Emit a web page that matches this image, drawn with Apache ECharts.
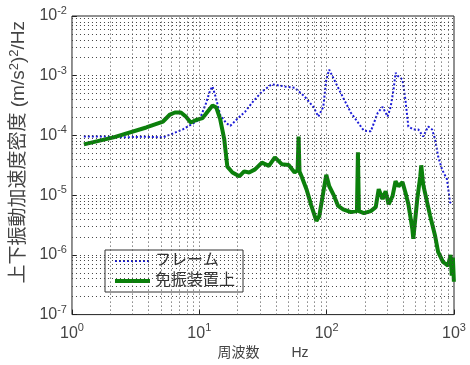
<!DOCTYPE html>
<html>
<head>
<meta charset="utf-8">
<script src="https://cdn.jsdelivr.net/npm/echarts@6/dist/echarts.min.js"></script>
<style>
  html, body { margin: 0; padding: 0; background: #fff; }
  #chart { width: 470px; height: 365px; }
</style>
</head>
<body>
<div id="chart"></div>
<script>
// Frame (フレーム) vertical acceleration PSD
const frameFreq = [1.24, 1.77, 2.54, 3.63, 5.19, 6.21, 7.42, 8.87, 10.05, 11.2, 12.2, 12.7, 13.4, 14.6, 16.3, 17.5,
  19.9, 22.9, 26, 31, 37.1, 46.9, 56, 67, 78.7, 86, 94.1, 99.3, 104.7, 114.6, 125.4, 137, 155, 176, 196, 222,
  252, 275, 301, 318, 335, 348, 360, 394, 415, 438, 479, 524, 573, 627, 673, 711, 750, 805, 881, 930, 980];
const frameVal = [9.6e-5, 9.6e-5, 9.3e-5, 9.5e-5, 9.3e-5, 1.08e-4, 1.26e-4, 1.58e-4, 1.85e-4, 3.3e-4, 5.8e-4, 6.6e-4, 4.5e-4, 2.2e-4, 1.6e-4, 1.45e-4,
  1.9e-4, 2.5e-4, 3.55e-4, 5.4e-4, 7.2e-4, 6.6e-4, 6.3e-4, 4.5e-4, 3.0e-4, 2.07e-4, 3.0e-4, 8.6e-4, 1.26e-3, 8.6e-4, 5.8e-4, 4.0e-4, 2.4e-4, 1.65e-4, 1.2e-4, 1.17e-4,
  2.4e-4, 3.0e-4, 2.07e-4, 3.0e-4, 5.8e-4, 1.12e-3, 1.0e-3, 8.6e-4, 4.0e-4, 1.41e-4, 1.26e-4, 1.26e-4, 9.6e-5, 1.41e-4, 1.26e-4, 8.6e-5, 4.5e-5, 2.7e-5, 1.85e-5, 7.6e-6, 7.1e-6];

// Isolation device top (免振装置上) vertical acceleration PSD
const isoFreq = [1.24, 2.12, 3.83, 5.19, 5.88, 6.43, 7.16, 7.83, 8.56, 9.36, 10.6, 11.6, 12.7, 13.6, 14.6, 15.7, 16.6, 18.2,
  20.6, 22.5, 24.6, 27.4, 31, 35.2, 39.2, 44.4, 50.3, 56, 59.1, 60.2, 61.2, 63.5, 69.4, 75.9, 83, 87.6, 94.1, 99.3,
  104.8, 114.6, 123, 134.6, 155, 172.9, 176, 179.2, 196, 222, 242.9, 256.3, 275, 290.5, 306.5, 329.2, 347.4, 366.6,
  394, 415, 438, 470.9, 479, 514.8, 543.3, 553.2, 573, 594, 649.6, 711, 750, 820, 896.7, 940, 960, 980, 998];
const isoVal = [7.1e-5, 9.3e-5, 1.36e-4, 1.71e-4, 2.24e-4, 2.42e-4, 2.42e-4, 2.07e-4, 1.65e-4, 1.8e-4, 1.95e-4, 2.5e-4, 3.16e-4, 2.93e-4, 1.85e-4, 8.6e-5, 3.0e-5, 2.4e-5,
  2.07e-5, 2.5e-5, 2.4e-5, 2.7e-5, 3.5e-5, 3.1e-5, 4.3e-5, 3.3e-5, 3.2e-5, 2.4e-5, 2.6e-5, 9.6e-5, 2.5e-5, 2.07e-5, 1.26e-5, 6.6e-6, 3.7e-6, 4.5e-6, 1.12e-5, 2.2e-5,
  1.41e-5, 9.6e-6, 6.6e-6, 5.8e-6, 5.2e-6, 5.4e-6, 5.2e-5, 5.4e-6, 5.0e-6, 5.4e-6, 6.3e-6, 1.26e-5, 8.6e-6, 1.17e-5, 7.0e-6, 9.6e-6, 1.71e-5, 1.41e-5,
  1.65e-5, 1.12e-5, 7.1e-6, 2.7e-6, 1.85e-6, 8.6e-6, 2.07e-5, 3.16e-5, 1.5e-5, 1.41e-5, 4.5e-6, 2.07e-6, 1.12e-6, 7.6e-7, 6.6e-7, 1.0e-6, 4.5e-7, 9.0e-7, 3.55e-7];

const seriesNames = ['フレーム', '免振装置上'];
const xDecades = [1, 10, 100, 1000];    // grid decades on the frequency axis
const yDecades = [1e-7, 1e-6, 1e-5, 1e-4, 1e-3, 1e-2];
const xLabel = '周波数　　 Hz';
const yLabel = '上下振動加速度密度 (m/s{sup|2}){sup|2}/Hz';

const FONT = '"Liberation Sans", Arial, "Noto Sans CJK JP", sans-serif';
const BLUE = '#1c1cd8', GREEN = '#0b800b';
function gridLine() { return { type: [1, 3], color: '#444', width: 1 }; }

function pairs(xs, ys) { return xs.map((x, i) => [x, ys[i]]); }
function powLabel(v) {
  const e = Math.round(Math.log10(v));
  return '{b|10}{e|' + e + '}';
}
function powRich() {
  return {
    b: { fontSize: 16, color: '#444', fontFamily: FONT },
    e: { fontSize: 11, color: '#444', fontFamily: FONT, padding: [0, 0, 10, 0] }
  };
}

// dotted grid at every 1..9 × decade (major and minor)
const xMin = xDecades[0], xMax = xDecades[xDecades.length - 1];
const yMin = yDecades[0], yMax = yDecades[yDecades.length - 1];
const gridLines = [];
xDecades.slice(0, -1).forEach(d => {
  for (let k = (d === xMin ? 2 : 1); k <= 9; k++) gridLines.push([{ coord: [d * k, yMin] }, { coord: [d * k, yMax] }]);
});
yDecades.slice(0, -1).forEach(d => {
  for (let k = (d === yMin ? 2 : 1); k <= 9; k++) gridLines.push([{ coord: [xMin, d * k] }, { coord: [xMax, d * k] }]);
});

const chart = echarts.init(document.getElementById('chart'), null, { renderer: 'canvas' });
chart.setOption({
  animation: false,
  backgroundColor: '#fff',
  grid: { left: 68, right: 16, top: 16, bottom: 49, show: true, borderColor: '#222', borderWidth: 1, backgroundColor: 'transparent' },
  xAxis: {
    type: 'log', logBase: 10, min: xMin, max: xMax,
    name: xLabel, nameLocation: 'middle', nameGap: 30,
    nameTextStyle: { fontSize: 14, color: '#444', fontFamily: FONT },
    axisLine: { show: false },
    axisTick: { show: true, inside: true, length: 5, lineStyle: { color: '#222' } },
    axisLabel: { formatter: powLabel, rich: powRich(), margin: 8 },
    splitLine: { show: false }
  },
  yAxis: {
    type: 'log', logBase: 10, min: yMin, max: yMax,
    name: yLabel, nameLocation: 'middle', nameGap: 38,
    nameTextStyle: {
      fontSize: 19, color: '#444', fontFamily: FONT, padding: [0, 0, 0, 26],
      rich: { sup: { fontSize: 13, color: '#444', fontFamily: FONT, padding: [0, 0, 9, 0] } }
    },
    axisLine: { show: false },
    axisTick: { show: true, inside: true, length: 5, lineStyle: { color: '#222' } },
    axisLabel: { formatter: powLabel, rich: powRich(), margin: 5 },
    splitLine: { show: false }
  },
  legend: {
    data: seriesNames,
    left: 105, top: 250, orient: 'vertical',
    itemWidth: 35, itemHeight: 14, itemGap: 4,
    padding: [3, 8, 3, 8],
    backgroundColor: '#fff', borderColor: '#333', borderWidth: 1,
    itemStyle: { opacity: 0 },
    lineStyle: { width: 'inherit', color: 'inherit', type: 'inherit' },
    textStyle: { fontSize: 16, color: '#333', fontFamily: FONT }
  },
  series: [
    {
      type: 'line', name: '_grid', data: [], silent: true, z: 1,
      markLine: { silent: true, symbol: 'none', label: { show: false }, lineStyle: gridLine(), animation: false, data: gridLines }
    },
    {
      type: 'line', name: seriesNames[0], data: pairs(frameFreq, frameVal),
      symbol: 'none', z: 3,
      lineStyle: { color: BLUE, width: 2, type: [2, 2] },
      itemStyle: { color: BLUE }
    },
    {
      type: 'line', name: seriesNames[1], data: pairs(isoFreq, isoVal),
      symbol: 'none', z: 4,
      lineStyle: { color: GREEN, width: 4 },
      itemStyle: { color: GREEN }
    }
  ]
});
</script>
</body>
</html>
